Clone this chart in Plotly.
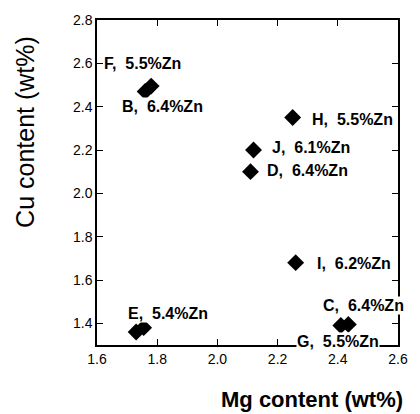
import plotly.graph_objects as go

# Data
names = ["A", "B", "C", "D", "E", "F", "G", "H", "I", "J"]
mg = [1.73, 1.76, 2.435, 2.11, 1.755, 1.78, 2.41, 2.25, 2.26, 2.12]
cu = [1.36, 2.47, 1.395, 2.10, 1.38, 2.495, 1.39, 2.35, 1.68, 2.20]
zn = [6.2, 6.4, 6.4, 6.4, 5.4, 5.5, 5.5, 5.5, 6.2, 6.1]

# label anchor positions (data coords, left edge / middle)
label_x = [1.642, 1.68, 2.346, 2.163, 1.70, 1.62, 2.261, 2.31, 2.326, 2.177]
label_y = [1.29, 2.40, 1.483, 2.105, 1.446, 2.60, 1.318, 2.342, 1.675, 2.21]

x_range = [1.6, 2.6]
y_range = [1.3, 2.8]

FONT = "Liberation Sans, Arial, Helvetica, sans-serif"

fig = go.Figure()
fig.add_trace(go.Scatter(
    x=mg, y=cu, mode="markers",
    marker=dict(symbol="diamond", size=13, color="black", line=dict(width=0)),
    showlegend=False, cliponaxis=False,
))

for n, z, lx, ly in zip(names, zn, label_x, label_y):
    fig.add_annotation(
        x=lx, y=ly, xref="x", yref="y",
        text=f"<b>{n}, \u00a0{z:.1f}%Zn</b>",
        showarrow=False, xanchor="left", yanchor="middle",
        font=dict(family=FONT, size=16, color="black"),
        bgcolor="white", borderpad=0,
    )

axis_common = dict(
    showline=True, linecolor="black", linewidth=1.5, mirror="ticks",
    ticks="inside", ticklen=6, tickwidth=1.2, tickcolor="black",
    showgrid=False, zeroline=False, tickformat=".1f",
    tickfont=dict(family=FONT, size=14, color="black"),
)

fig.update_xaxes(range=x_range, tick0=1.6, dtick=0.2, **axis_common)
fig.update_yaxes(range=y_range, tick0=1.4, dtick=0.2, **axis_common)

fig.add_annotation(
    text="<b>Mg content (wt%)</b>", xref="paper", yref="paper",
    x=0.713, y=-0.168, xanchor="center", yanchor="middle", showarrow=False,
    font=dict(family=FONT, size=22, color="black"),
)
fig.add_annotation(
    text="Cu content (wt%)", xref="paper", yref="paper",
    x=-0.24, y=0.655, xanchor="center", yanchor="middle", showarrow=False,
    textangle=-90,
    font=dict(family=FONT, size=25, color="black"),
)

fig.update_layout(
    width=420, height=414,
    margin=dict(l=97, r=16, t=17, b=69),
    paper_bgcolor="white", plot_bgcolor="white",
)

fig.write_html("out.html")
